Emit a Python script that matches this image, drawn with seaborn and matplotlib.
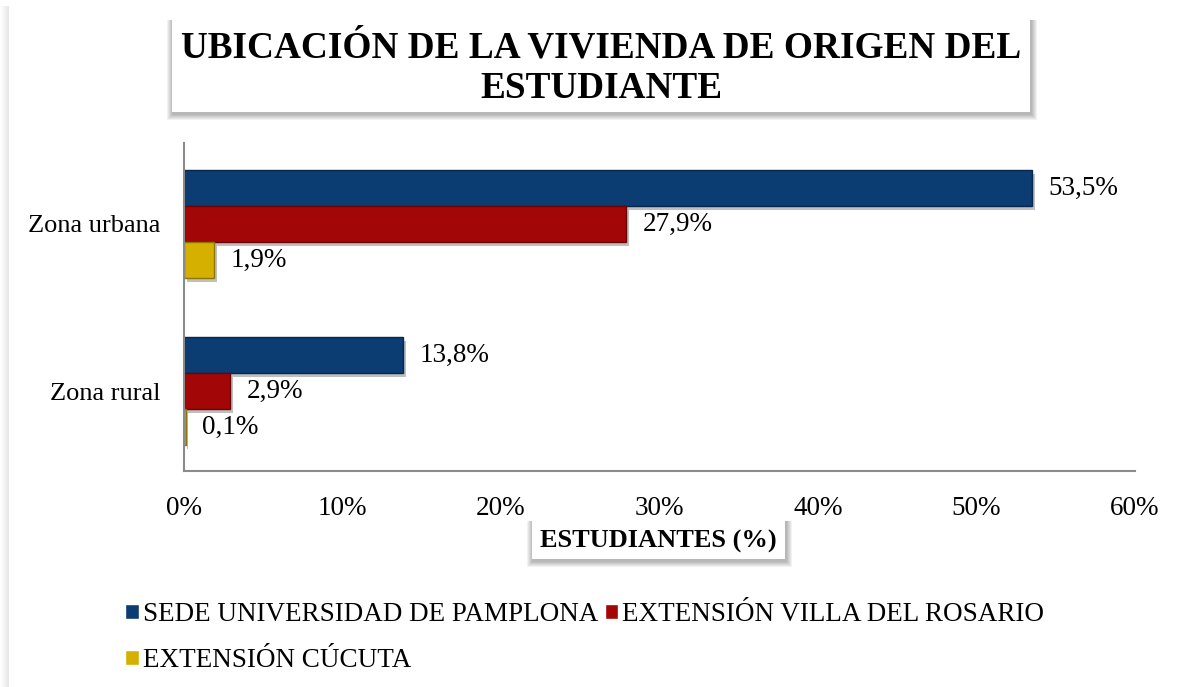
import matplotlib
matplotlib.use("Agg")
import matplotlib.pyplot as plt
import matplotlib.patches as mpatches
import matplotlib.patheffects as pe
import seaborn as sns
import pandas as pd

# ---- data ----
zonas = ["Zona urbana", "Zona rural"]
sedes = ["SEDE UNIVERSIDAD DE PAMPLONA", "EXTENSIÓN VILLA DEL ROSARIO", "EXTENSIÓN CÚCUTA"]
sede_pamplona = [53.5, 13.8]
ext_villa = [27.9, 2.9]
ext_cucuta = [1.9, 0.1]
xticks = [0, 10, 20, 30, 40, 50, 60]
xticklabels = ["0%", "10%", "20%", "30%", "40%", "50%", "60%"]
title = "UBICACIÓN DE LA VIVIENDA DE ORIGEN DEL\nESTUDIANTE"
xlabel = "ESTUDIANTES (%)"

colors = ["#0B3C72", "#A20606", "#D6B000"]
edge_colors = ["#062750", "#6E0303", "#8E7400"]

rows = []
for s, vals in zip(sedes, [sede_pamplona, ext_villa, ext_cucuta]):
    for z, v in zip(zonas, vals):
        rows.append({"Zona": z, "Sede": s, "Valor": v})
df = pd.DataFrame(rows)

sns.set_theme(style="white")
plt.rcParams["font.family"] = ["Liberation Serif", "DejaVu Serif"]
plt.rcParams["text.color"] = "#000000"

fig = plt.figure(figsize=(11.82, 6.87), dpi=100)
fig.patch.set_facecolor("white")

# outer frame shadow on the left
for i in range(8):
    fig.patches.append(mpatches.Rectangle(((1 + i) / 1182, 0), 1 / 1182, 1 - 6 / 687,
                                          transform=fig.transFigure, facecolor="#000000",
                                          alpha=0.012 * (i + 1), edgecolor="none", zorder=0))

ax = fig.add_axes([184 / 1182, 1 - 471 / 687, (1135 - 184) / 1182, (471 - 143) / 687])
sns.barplot(data=df, y="Zona", x="Valor", hue="Sede", order=zonas, hue_order=sedes,
            palette=colors, orient="h", width=0.647, saturation=1, ax=ax,
            linewidth=1.0, legend=True)

for cont, ec in zip(ax.containers, edge_colors):
    for bar in cont:
        bar.set_edgecolor(ec)
        bar.set_path_effects([pe.SimplePatchShadow(offset=(2, -3), shadow_rgbFace="#000000", alpha=0.25), pe.Normal()])
    ax.bar_label(cont, labels=[f"{b.get_width():.1f}".replace(".", ",") + "%" for b in cont],
                 padding=12, fontsize=19.5, color="#000000")

ax.set_xlim(0, 60)
ax.set_ylim(1.479, -0.485)
ax.set_xticks(xticks)
ax.set_xticklabels(xticklabels, fontsize=19.5)
ax.tick_params(axis="x", direction="out", length=5, width=1.5, color="#8a8a8a", pad=13, labelcolor="#000000")
ax.tick_params(axis="y", length=0, pad=17, labelsize=19, labelcolor="#000000")
ax.set_xlabel("")
ax.set_ylabel("")
for sp in ["top", "right"]:
    ax.spines[sp].set_visible(False)
for sp in ["left", "bottom"]:
    ax.spines[sp].set_color("#8a8a8a")
    ax.spines[sp].set_linewidth(1.5)

# legend
handles, labels = ax.get_legend_handles_labels()
ax.get_legend().remove()
order = [0, 2, 1]
fig.legend([handles[i] for i in order], [labels[i] for i in order], loc="upper left",
           bbox_to_anchor=(125 / 1182, 1 - 602 / 687), ncol=2, frameon=False,
           fontsize=19.5, handlelength=0.5, handleheight=0.5, handletextpad=0.15,
           columnspacing=0.25, labelspacing=0.78, borderaxespad=0, borderpad=0,
           labelcolor="#000000")


def shadow_box(x0, y0, x1, y1):
    # pixel coords (top-left origin) -> figure coords
    W, H = 1182, 687
    for i in range(6, 0, -1):
        fig.patches.append(mpatches.Rectangle(((x0 - i + 1) / W, 1 - (y1 + i + 2) / H),
                                              (x1 - x0 + 2 * i) / W, (y1 - y0 + i) / H,
                                              transform=fig.transFigure, facecolor="#000000",
                                              alpha=0.05, edgecolor="none", zorder=1))
    fig.patches.append(mpatches.Rectangle((x0 / W, 1 - y1 / H), (x1 - x0) / W, (y1 - y0) / H,
                                          transform=fig.transFigure, facecolor="white",
                                          edgecolor="none", zorder=2))


shadow_box(172, 18, 1030, 112)
fig.text(601 / 1182, 1 - 68 / 687, title, ha="center", va="center", fontsize=26.8,
         fontweight="bold", linespacing=1.22, color="#000000", zorder=3)

shadow_box(532, 519, 785, 559)
fig.text(658 / 1182, 1 - 541 / 687, xlabel, ha="center", va="center", fontsize=19,
         fontweight="bold", color="#000000", zorder=3)

fig.savefig("out.png", dpi=100, facecolor="white")
